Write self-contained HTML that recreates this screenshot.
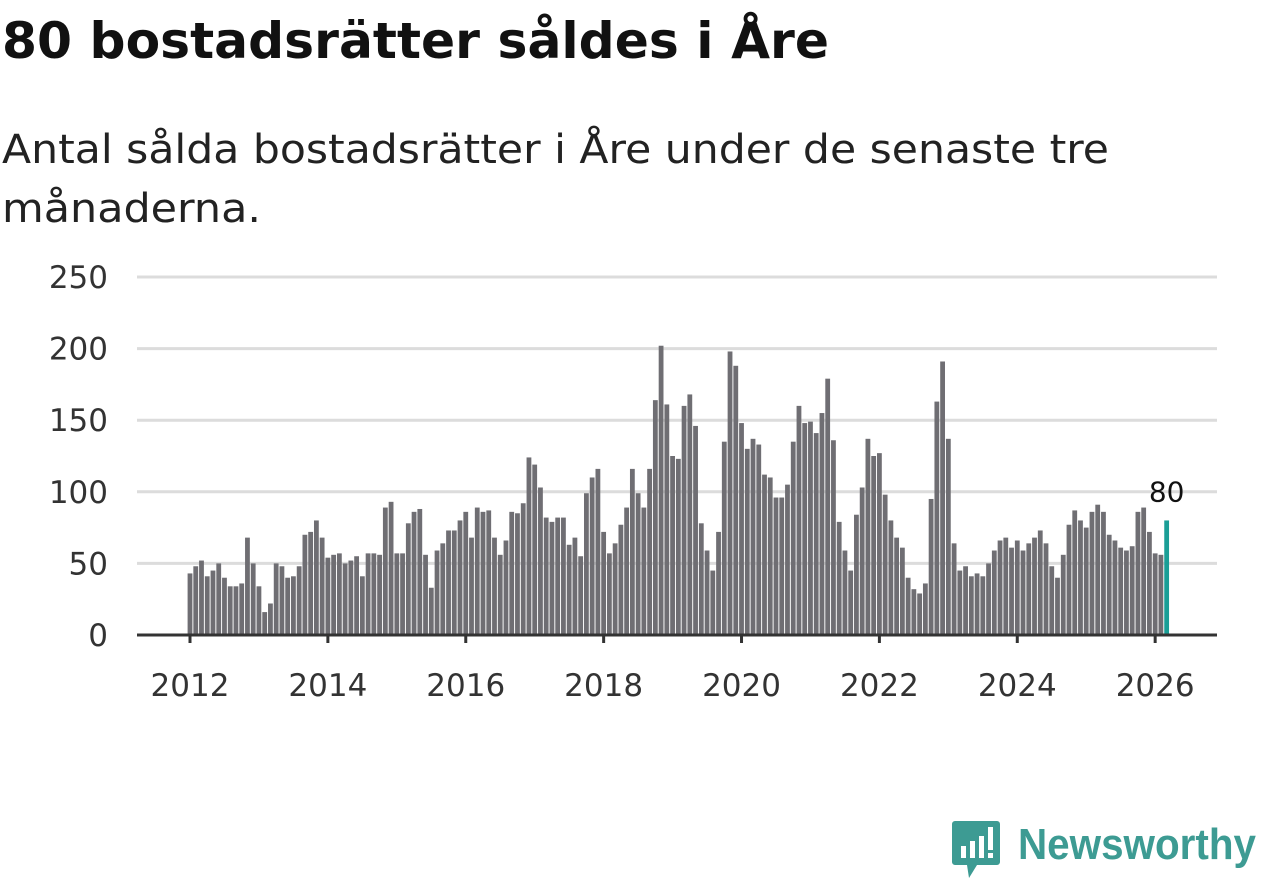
<!DOCTYPE html>
<html><head><meta charset="utf-8"><style>
html,body{margin:0;padding:0;background:#fff;width:1262px;height:879px;overflow:hidden;font-family:"Liberation Sans","DejaVu Sans",sans-serif;}
svg{position:absolute;left:0;top:0}
</style></head><body>
<svg width="1262" height="240">
<text x="2" y="58" font-size="50" font-weight="bold" fill="#111" font-family="DejaVu Sans, sans-serif" textLength="827" lengthAdjust="spacingAndGlyphs">80 bostadsrätter såldes i Åre</text>
<text x="2" y="163" font-size="40" fill="#222" font-family="DejaVu Sans, sans-serif" textLength="1107" lengthAdjust="spacingAndGlyphs">Antal sålda bostadsrätter i Åre under de senaste tre</text>
<text x="2" y="222" font-size="40" fill="#222" font-family="DejaVu Sans, sans-serif" textLength="259" lengthAdjust="spacingAndGlyphs">månaderna.</text>
</svg>
<svg id="chart" width="1262" height="879"></svg>
<script>
const values = [
43,48,52,41,45,50,40,34,34,36,68,50,
34,16,22,50,48,40,41,48,70,72,80,68,
54,56,57,50,52,55,41,57,57,56,89,93,
57,57,78,86,88,56,33,59,64,73,73,80,
86,68,89,86,87,68,56,66,86,85,92,124,
119,103,82,79,82,82,63,68,55,99,110,116,
72,57,64,77,89,116,99,89,116,164,202,161,
125,123,160,168,146,78,59,45,72,135,198,188,
148,130,137,133,112,110,96,96,105,135,160,148,
149,141,155,179,136,79,59,45,84,103,137,125,
127,98,80,68,61,40,32,29,36,95,163,191,
137,64,45,48,41,43,41,50,59,66,68,61,
66,59,64,68,73,64,48,40,56,77,87,80,
75,86,91,86,70,66,61,59,62,86,89,72,
57,56,80];
const startYear = 2012;
const yTicks = [0,50,100,150,200,250];
const xTickYears = [2012,2014,2016,2018,2020,2022,2024,2026];
const NS="http://www.w3.org/2000/svg";
const svg=document.getElementById('chart');
const y=v=>635-v*1.432;
const x=m=>190+m*5.745;
function el(t,a){const e=document.createElementNS(NS,t);for(const k in a)e.setAttribute(k,a[k]);svg.appendChild(e);return e;}
yTicks.forEach(t=>{
  if(t>0){const g=el('line',{x1:137,x2:1217,y1:y(t),y2:y(t),stroke:'#dcdcdc','stroke-width':3});
  
  }
  const l=el('text',{x:108,y:y(t)+11,'text-anchor':'end','font-size':31,fill:'#333','font-family':'DejaVu Sans, sans-serif'});
  l.textContent=t;
  
  
});
values.forEach((v,i)=>{
  const last=i===values.length-1;
  const r=el('rect',{x:x(i)-2.4,y:y(v),width:4.8,height:v*1.432,fill:last?'#1a9e96':'#6f6e73'});
  
  
});
const li=values.length-1;
const lab=el('text',{x:x(li),y:y(values[li])-19,'text-anchor':'middle','font-size':28,fill:'#111','font-family':'DejaVu Sans, sans-serif'});
lab.textContent=values[li];


const base=el('line',{x1:137,x2:1217,y1:635,y2:635,stroke:'#333','stroke-width':3});


xTickYears.forEach(yr=>{
  const xx=x((yr-startYear)*12);
  const tk=el('line',{x1:xx,x2:xx,y1:635,y2:643,stroke:'#333','stroke-width':3});
  
  
  const t=el('text',{x:xx,y:696,'text-anchor':'middle','font-size':31,fill:'#333','font-family':'DejaVu Sans, sans-serif'});
  t.textContent=yr;
  
  
});
</script>
<svg width="1262" height="879" style="position:absolute;left:0;top:0">
<path d="M955 821 h42 a3 3 0 0 1 3 3 v38 a3 3 0 0 1 -3 3 h-20 l-8 13 l-2 -13 h-12 a3 3 0 0 1 -3 -3 v-38 a3 3 0 0 1 3 -3z" fill="#3d9b93"/>
<rect x="961" y="846" width="5" height="12" fill="#fff"/>
<rect x="970" y="841" width="5" height="17" fill="#fff"/>
<rect x="979" y="836" width="5" height="22" fill="#fff"/>
<rect x="988" y="827" width="5" height="23" fill="#fff"/>
<rect x="988" y="853" width="5" height="5" fill="#fff"/>
<text x="1018" y="859" font-size="44" font-weight="bold" fill="#3d9b93" font-family="Liberation Sans, sans-serif" textLength="238" lengthAdjust="spacingAndGlyphs">Newsworthy</text>
</svg>
</body></html>
